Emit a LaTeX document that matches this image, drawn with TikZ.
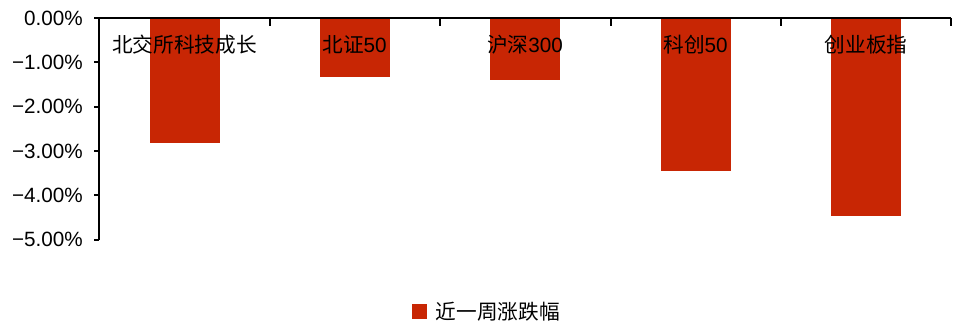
\documentclass[tikz,border=0pt]{standalone}
\usepackage{fontspec}
\usepackage{tikz}
\setmainfont{Liberation Sans}
\newfontfamily\cjk{Noto Sans CJK SC}
\usetikzlibrary{positioning}
\definecolor{barred}{RGB}{200,38,4}

\begin{document}
\begin{tikzpicture}[x=0.75pt,y=0.75pt]
\tikzstyle{every node}+=[inner sep=0pt]
\tikzstyle{bar}=[fill=barred]
\tikzstyle{cat}=[font=\fontsize{15.5}{18}\selectfont]
\tikzstyle{ylab}=[anchor=east,font=\fontsize{15.5}{18}\selectfont]
\tikzstyle{axis}=[black,line width=1.5]
\useasboundingbox (0,0) rectangle (953,-324);
% bars
\fill [bar] (149.5,-18) rectangle (219.5,-143);
\fill [bar] (319.5,-18) rectangle (389.5,-77.5);
\fill [bar] (490,-18) rectangle (560,-80);
\fill [bar] (660.5,-18) rectangle (730.5,-171);
\fill [bar] (831,-18) rectangle (901,-216);
% axes
\draw [axis] (99,-18) -- (951,-18);
\draw [axis] (99,-18) -- (99,-239.5);
\foreach \x in {269.5,440,610.5,781,951}
  \draw [axis] (\x,-18) -- (\x,-26);
\foreach \y in {0,1,2,3,4,5}
  \draw [axis] (94,-18-44.3*\y) -- (99,-18-44.3*\y);
% y labels
\node [ylab] (y0) at (83,-18) {0.00\%};
\node [ylab] (y1) at (83,-62.3) {−1.00\%};
\node [ylab] (y2) at (83,-106.6) {−2.00\%};
\node [ylab] (y3) at (83,-150.9) {−3.00\%};
\node [ylab] (y4) at (83,-195.2) {−4.00\%};
\node [ylab] (y5) at (83,-239.5) {−5.00\%};
% category labels
\node [cat] (bjs) at (184.5,-45) {\cjk 北交所科技成长};
\node [cat] (bz50) at (354.5,-45) {{\cjk 北证}50};
\node [cat] (hs300) at (525,-45) {{\cjk 沪深}300};
\node [cat] (kc50) at (695.5,-45) {{\cjk 科创}50};
\node [cat] (cyb) at (866,-45) {\cjk 创业板指};
% legend
\node [bar,minimum size=11.5pt] (key) at (419.5,-311.5) {};
\node [cat,right=6pt of key] (keylab) {\cjk 近一周涨跌幅};
\end{tikzpicture}
\end{document}
